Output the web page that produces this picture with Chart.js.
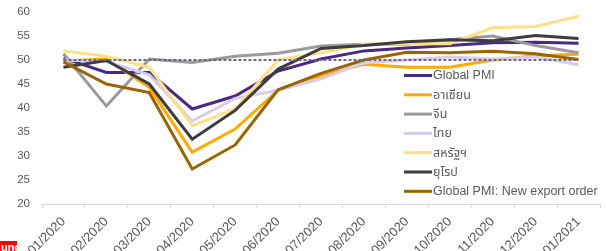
<!DOCTYPE html>
<html>
<head>
<meta charset="utf-8">
<script src="https://cdn.jsdelivr.net/npm/chart.js@4/dist/chart.umd.min.js"></script>
<style>
  html, body { margin: 0; padding: 0; background: #fff; }
  #wrap { position: relative; width: 606px; height: 251px; overflow: hidden; }
  #c { display: block; }
  #tag { position: absolute; left: 0; top: 241px; width: 17px; height: 10px; background: #ff0000; overflow: hidden;
         color: #fff; font: bold 11px "Liberation Sans", Arial, sans-serif; line-height: 12px; padding-left: 1px; box-sizing: border-box; }
</style>
</head>
<body>
<div id="wrap">
  <canvas id="c" width="606" height="251"></canvas>
  <div id="tag">und</div>
</div>
<script>
const categories = ["01/2020","02/2020","03/2020","04/2020","05/2020","06/2020","07/2020","08/2020","09/2020","10/2020","11/2020","12/2020","01/2021"];
const globalPMI  = [50.4, 47.4, 47.4, 39.8, 42.5, 47.7, 50.2, 51.9, 52.5, 53.0, 53.6, 53.7, 53.5];
const asean      = [49.8, 50.2, 44.3, 30.8, 35.6, 43.7, 46.7, 49.1, 48.5, 48.5, 50.0, 50.9, 51.2];
const china      = [51.3, 40.4, 50.2, 49.5, 50.8, 51.4, 52.9, 53.3, 53.3, 54.2, 55.0, 53.0, 51.5];
const thai       = [50.0, 49.7, 46.9, 37.3, 42.0, 43.7, 46.1, 49.4, 50.0, 50.6, 50.2, 50.6, 49.0];
const us         = [51.9, 50.8, 48.5, 36.3, 39.8, 50.0, 51.5, 53.3, 53.4, 53.4, 56.7, 57.0, 59.1];
const europe     = [48.5, 49.9, 45.0, 33.5, 39.5, 48.1, 52.4, 53.0, 53.8, 54.2, 54.0, 55.1, 54.5];
const exportOrd  = [49.6, 45.0, 43.2, 27.3, 32.3, 43.8, 47.2, 50.0, 51.6, 51.5, 51.8, 51.3, 50.1];
const refLine    = [50, 50, 50, 50, 50, 50, 50, 50, 50, 50, 50, 50, 50];
const seriesNames = ["Global PMI", "อาเซียน", "จีน", "ไทย", "สหรัฐฯ", "ยุโรป", "Global PMI: New export order"];
const yTicks = [20, 25, 30, 35, 40, 45, 50, 55, 60];

const colors = ["#4B2884", "#FFAB00", "#9A9A9A", "#D8CCEC", "#FFDF88", "#3D3D3D", "#996500"];
const seriesData = [globalPMI, asean, china, thai, us, europe, exportOrd];
const FONT = '"Liberation Sans", "Noto Sans Thai", "Noto Sans", Arial, sans-serif';

const datasets = seriesData.map((d, i) => ({
  label: seriesNames[i],
  data: d,
  borderColor: colors[i],
  backgroundColor: colors[i],
  borderWidth: 3,
  pointRadius: 0,
  tension: 0,
  fill: false,
  order: 10 - i
}));
datasets.push({
  label: "_ref",
  data: refLine,
  borderColor: "#6E6486",
  borderWidth: 2,
  borderDash: [3, 2],
  pointRadius: 0,
  fill: false,
  order: 0
});

const legendPlugin = {
  id: 'customLegend',
  afterDraw(chart) {
    const ctx = chart.ctx;
    ctx.save();
    ctx.font = '12.5px ' + FONT;
    ctx.textBaseline = 'middle';
    ctx.textAlign = 'left';
    seriesNames.forEach((name, i) => {
      const y = 75.5 + i * 19.3;
      ctx.strokeStyle = colors[i];
      ctx.lineWidth = 3;
      ctx.beginPath();
      ctx.moveTo(404, y);
      ctx.lineTo(432, y);
      ctx.stroke();
      ctx.fillStyle = '#595959';
      ctx.fillText(name, 433, y + 0.5);
    });
    ctx.restore();
  }
};

new Chart(document.getElementById('c'), {
  type: 'line',
  data: { labels: categories, datasets },
  options: {
    responsive: false,
    animation: false,
    layout: { padding: { top: 12, right: 6, left: 0, bottom: 0 } },
    plugins: { legend: { display: false }, tooltip: { enabled: false } },
    scales: {
      x: {
        type: 'category',
        offset: true,
        grid: { display: true, offset: true, drawOnChartArea: false, drawTicks: true, tickLength: 4, color: '#D9D9D9' },
        border: { display: true, color: '#D9D9D9', width: 1 },
        ticks: { color: '#595959', font: { size: 13, family: FONT }, maxRotation: 45, minRotation: 45, autoSkip: false, padding: 6 },
        afterFit(scale) { scale.height = 47; scale.paddingLeft = 0; scale.paddingRight = 0; }
      },
      y: {
        min: 20, max: 60,
        afterBuildTicks(scale) { scale.ticks = yTicks.map(v => ({ value: v })); },
        grid: { display: false, drawTicks: false },
        border: { display: false },
        ticks: { color: '#595959', font: { size: 11.5, family: FONT }, padding: 12 },
        afterFit(scale) { scale.width = 42; scale.paddingTop = 0; scale.paddingBottom = 0; }
      }
    }
  },
  plugins: [legendPlugin]
});
</script>
</body>
</html>
